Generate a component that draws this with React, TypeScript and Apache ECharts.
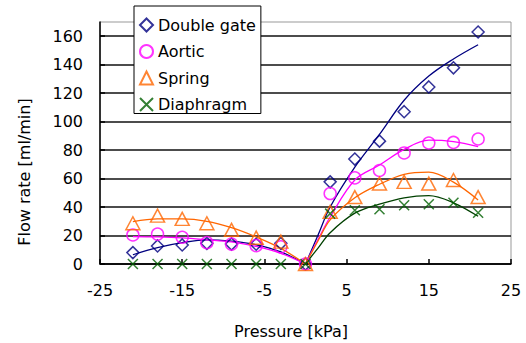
import React, { useEffect, useRef } from "react";
import * as echarts from "echarts";

// Measured points (Pressure [kPa] vs Flow rate [ml/min])
const pressure = [-21, -18, -15, -12, -9, -6, -3, 0, 3, 6, 9, 12, 15, 18, 21];
const doubleGate = [8, 12.7, 13.4, 14.5, 14, 13.9, 14.5, 0, 57.7, 73.7, 86.3, 107, 124.4, 137.8, 163];
const aortic = [20.4, 21, 18.8, 15, 14, 12.9, 12, 0, 49.5, 60.5, 65.7, 78, 85, 85.4, 87.8];
const spring = [28.6, 34, 31.7, 28.6, 24, 18.5, 15.7, 0, 36.6, 47, 56.5, 57.7, 56.5, 59, 47];
const diaphragm = [0, 0, 0, 0, 0, 0, 0, 0, 35.4, 37.8, 38.5, 41.3, 42, 43, 36];

// Fitted curves (negative and positive branches)
const fitNegX = [-21, -18, -15, -12, -9, -6, -3, 0];
const fitPosX = [0, 1.5, 3, 6, 9, 12, 15, 18, 21];
const dgFitNeg = [6.5, 11.5, 15, 17, 16, 13.5, 8.5, 0];
const dgFitPos = [0, 20, 40, 68, 91, 115, 132, 144, 154];
const aorticFitNeg = [19.3, 19, 18.3, 17, 15.5, 12.3, 7.5, 0];
const aorticFitPos = [0, 17, 33, 59, 69.5, 80.5, 87, 86, 82.5];
const springFitNeg = [29.8, 31.7, 31.7, 30, 25.5, 19, 11, 0];
const springFitPos = [0, 16, 31, 46.5, 56, 63, 64.5, 57.5, 45];
const diaphragmFitPos = [0, 11, 22, 35.7, 42, 46.5, 48, 43, 33.5];

const names = ["Double gate", "Aortic", "Spring", "Diaphragm"];

const FONT = "DejaVu Sans";

const zip = (xs: number[], ys: number[]) => xs.map((x, i) => [x, ys[i]]);

export default function App() {
  const ref = useRef<HTMLDivElement>(null);
  useEffect(() => {
    if (!ref.current) return;
    const chart = echarts.init(ref.current, null, { renderer: "svg" });
    const marker = (
      name: string,
      ys: number[],
      color: string,
      symbol: string,
      size: number | number[]
    ) => ({
      name,
      type: "scatter",
      data: zip(pressure, ys),
      symbol,
      symbolSize: size,
      itemStyle: { color: "rgba(0,0,0,0)", borderColor: color, borderWidth: 1.5 },
      z: 3,
    });
    const fit = (xs: number[], ys: number[], color: string) => ({
      type: "line",
      data: zip(xs, ys),
      smooth: 0.35,
      showSymbol: false,
      symbol: "none",
      lineStyle: { color, width: 1.3 },
      z: 2,
    });
    chart.setOption({
      animation: false,
      grid: {
        left: 100,
        right: 15,
        top: 22,
        bottom: 79,
        show: true,
        borderColor: "#999",
        borderWidth: 1,
      },
      legend: {
        data: names,
        orient: "vertical",
        left: 134,
        top: 6,
        padding: [11, 5, 1, 5],
        itemGap: 10.5,
        itemWidth: 13,
        itemHeight: 13,
        backgroundColor: "#fff",
        borderColor: "#000",
        borderWidth: 1,
        textStyle: { fontFamily: FONT, fontSize: 16, color: "#000" },
      },
      xAxis: {
        type: "value",
        min: -25,
        max: 25,
        interval: 10,
        axisLine: { onZero: false, lineStyle: { color: "#000", width: 1.5 } },
        axisTick: { inside: true, length: 5, lineStyle: { color: "#000", width: 1.5 } },
        axisLabel: { fontFamily: FONT, fontSize: 16, color: "#000", margin: 18 },
        splitLine: { show: false },
      },
      yAxis: {
        type: "value",
        min: 0,
        max: 170,
        interval: 20,
        axisLine: { show: true, onZero: false, lineStyle: { color: "#000", width: 1.5 } },
        axisTick: { show: true, inside: true, length: 5, lineStyle: { color: "#000", width: 1.5 } },
        axisLabel: {
          fontFamily: FONT,
          fontSize: 16,
          color: "#000",
          margin: 17,
          showMaxLabel: false,
        },
        splitLine: {
          show: true,
          showMaxLine: false,
          lineStyle: { color: "#111", width: 1.5 },
        },
      },
      graphic: [
        {
          type: "text",
          x: 24,
          y: 172,
          rotation: Math.PI / 2,
          style: {
            text: "Flow rate [ml/min]",
            font: `16px "${FONT}"`,
            fill: "#000",
            align: "center",
            verticalAlign: "middle",
          },
        },
        {
          type: "text",
          x: 291,
          y: 331,
          style: {
            text: "Pressure [kPa]",
            font: `16px "${FONT}"`,
            fill: "#000",
            align: "center",
            verticalAlign: "middle",
          },
        },
      ],
      series: [
        fit(fitNegX, dgFitNeg, "#000080"),
        fit(fitPosX, dgFitPos, "#000080"),
        fit(fitNegX, aorticFitNeg, "#ff00ff"),
        fit(fitPosX, aorticFitPos, "#ff00ff"),
        fit(fitNegX, springFitNeg, "#ff6600"),
        fit(fitPosX, springFitPos, "#ff6600"),
        fit(fitPosX, diaphragmFitPos, "#004000"),
        marker(names[0], doubleGate, "#000080", "diamond", 12),
        marker(names[1], aortic, "#ff00ff", "circle", 12),
        marker(names[2], spring, "#ff6600", "triangle", [14, 13]),
        marker(names[3], diaphragm, "#006000", "path://M0,0L10,10M10,0L0,10", 10),
      ],
    });
    return () => chart.dispose();
  }, []);
  return <div ref={ref} style={{ width: 526, height: 343, position: "absolute", left: 0, top: 0 }} />;
}
